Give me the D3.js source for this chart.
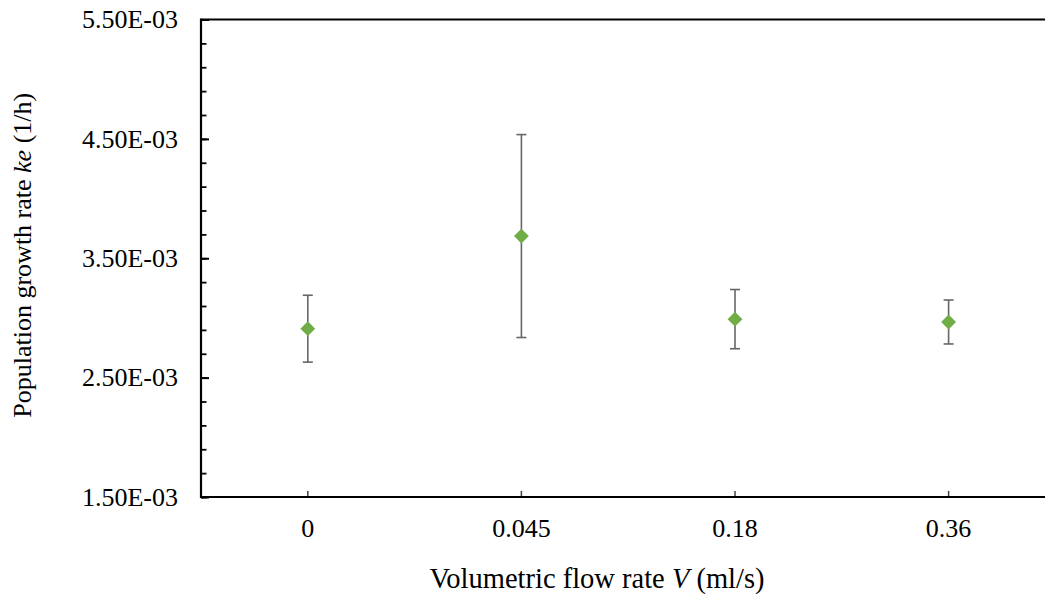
<!DOCTYPE html>
<html>
<head>
<meta charset="utf-8">
<script src="https://cdn.jsdelivr.net/npm/d3@7"></script>
<style>
  html, body { margin: 0; padding: 0; background: #fff; }
  svg { display: block; }
  svg text { font-family: "Times New Roman", "Liberation Serif", "DejaVu Serif", serif !important; fill: #000; }
</style>
</head>
<body>
<svg id="chart" width="1045" height="597"></svg>
<script>
// Flow rate categories (ml/s)
const categories = ["0", "0.045", "0.18", "0.36"];
// Mean population growth rate ke (1/h)
const growthRate = [2.91e-3, 3.686e-3, 2.99e-3, 2.966e-3];
// Error bar half-widths (1/h)
const errorSize = [0.28e-3, 0.85e-3, 0.248e-3, 0.184e-3];
// Y axis major tick values
const yMajorTicks = [1.5e-3, 2.5e-3, 3.5e-3, 4.5e-3, 5.5e-3];
// Y axis minor tick values
const yMinorTicks = d3.range(0, 21).map(i => 1.5e-3 + i * 0.2e-3);

const serif = "'Times New Roman', 'Liberation Serif', serif";
const svg = d3.select("#chart");
const plotLeft = 201, plotTop = 19.5, plotBottom = 497, bandW = 213.6;
const plotRight = plotLeft + bandW * categories.length;

const x = d3.scaleBand().domain(categories).range([plotLeft, plotRight]).padding(0);
const y = d3.scaleLinear().domain([1.5e-3, 5.5e-3]).range([plotBottom, plotTop]);

// Excel-style scientific notation, e.g. 5.50E-03
const sci = v => {
  const s = v.toExponential(2).toUpperCase();
  const [m, e] = s.split("E");
  const sign = e[0] === "-" ? "-" : "+";
  const digits = e.replace(/[+-]/, "").padStart(2, "0");
  return m + "E" + sign + digits;
};

// Minor y ticks
svg.append("g")
  .attr("transform", `translate(${plotLeft},0)`)
  .call(d3.axisLeft(y).tickValues(yMinorTicks).tickSize(-5.5).tickFormat(""))
  .call(g => g.select(".domain").remove())
  .call(g => g.selectAll("line").attr("stroke", "#000").attr("stroke-width", 1.8));

// Major y ticks and labels
svg.append("g")
  .attr("transform", `translate(${plotLeft},0)`)
  .call(d3.axisLeft(y).tickValues(yMajorTicks).tickSize(-8).tickPadding(23).tickFormat(sci))
  .attr("font-family", serif)
  .call(g => g.select(".domain").remove())
  .call(g => g.selectAll("line").attr("stroke", "#000").attr("stroke-width", 2))
  .call(g => g.selectAll("text").attr("font-size", 26).attr("fill", "#000"));

// X axis ticks and labels
svg.append("g")
  .attr("transform", `translate(0,${plotBottom})`)
  .call(d3.axisBottom(x).tickSize(-6).tickPadding(22))
  .attr("font-family", serif)
  .call(g => g.select(".domain").remove())
  .call(g => g.selectAll("line").attr("stroke", "#444").attr("stroke-width", 1.5))
  .call(g => g.selectAll("text").attr("font-size", 26).attr("fill", "#000"));

// Axis lines
svg.append("line").attr("x1", plotLeft).attr("x2", 1045).attr("y1", plotBottom).attr("y2", plotBottom)
  .attr("stroke", "#000").attr("stroke-width", 2.2);
svg.append("line").attr("x1", plotLeft).attr("x2", 1045).attr("y1", plotTop).attr("y2", plotTop)
  .attr("stroke", "#000").attr("stroke-width", 2);
svg.append("line").attr("x1", plotLeft).attr("x2", plotLeft).attr("y1", plotTop - 1).attr("y2", plotBottom + 1)
  .attr("stroke", "#000").attr("stroke-width", 2.2);

const cx = c => x(c) + x.bandwidth() / 2;

// Error bars
const eb = svg.append("g").attr("stroke", "#666").attr("stroke-width", 1.6).attr("fill", "none");
categories.forEach((c, i) => {
  const hi = y(growthRate[i] + errorSize[i]);
  const lo = y(growthRate[i] - errorSize[i]);
  eb.append("line").attr("x1", cx(c)).attr("x2", cx(c)).attr("y1", hi).attr("y2", lo);
  eb.append("line").attr("x1", cx(c) - 5).attr("x2", cx(c) + 5).attr("y1", hi).attr("y2", hi);
  eb.append("line").attr("x1", cx(c) - 5).attr("x2", cx(c) + 5).attr("y1", lo).attr("y2", lo);
});

// Diamond markers
svg.append("g").selectAll("path")
  .data(categories)
  .join("path")
  .attr("d", d3.symbol().type(d3.symbolSquare).size(110))
  .attr("transform", (c, i) => `translate(${cx(c)},${y(growthRate[i])}) rotate(45)`)
  .attr("fill", "#70AD47");

// Axis titles
svg.append("text")
  .attr("x", 597).attr("y", 588)
  .attr("text-anchor", "middle")
  .attr("font-family", serif)
  .attr("font-size", 28.5)
  .call(t => {
    t.append("tspan").text("Volumetric flow rate ");
    t.append("tspan").attr("font-style", "italic").text("V");
    t.append("tspan").text(" (ml/s)");
  });

svg.append("text")
  .attr("transform", `translate(31,${(plotTop + plotBottom) / 2 - 3}) rotate(-90)`)
  .attr("text-anchor", "middle")
  .attr("font-family", serif)
  .attr("font-size", 26)
  .call(t => {
    t.append("tspan").text("Population growth rate ");
    t.append("tspan").attr("font-style", "italic").text("ke");
    t.append("tspan").text(" (1/h)");
  });
</script>
</body>
</html>
